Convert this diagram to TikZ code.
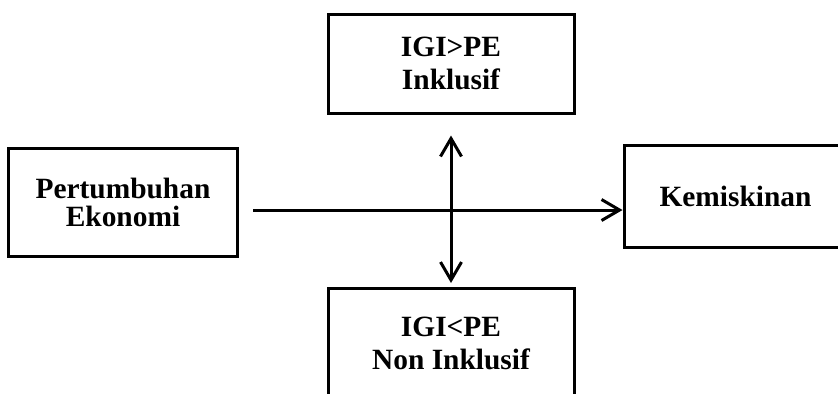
\documentclass[tikz,border=0pt]{standalone}
\usepackage{fontspec}
\setmainfont{Liberation Serif}
\usetikzlibrary{arrows.meta}
\tikzset{
  kotak/.style={draw, line width=1.5pt, align=center, inner sep=0pt,
    font=\fontsize{14.7}{16.5}\selectfont\bfseries},
  panah/.style={line width=1.5pt, -{Straight Barb[length=9pt,width=10.5pt,line width=1.5pt]}},
  panahdua/.style={line width=1.5pt, {Straight Barb[length=9pt,width=10.5pt,line width=1.5pt]}-{Straight Barb[length=9pt,width=10.5pt,line width=1.5pt]}}
}
\begin{document}
\begin{tikzpicture}[x=0.5pt, y=-0.5pt]
    \clip (0,0) rectangle (838,393);
    % Kotak variabel
    \node[kotak, minimum width=114.5pt, minimum height=54pt,
      font=\fontsize{14.7}{14}\selectfont\bfseries] (pe) at (123,202) {Pertumbuhan\\Ekonomi};
    \node[kotak, minimum width=111.5pt, minimum height=51pt] (miskin) at (735.5,196.5) {Kemiskinan};
    \node[kotak, minimum width=123pt, minimum height=49.5pt] (atas) at (451,63.5) {IGI>PE\\Inklusif};
    \node[kotak, minimum width=123pt, minimum height=55pt, anchor=north] (bawah) at (451,287) {IGI<PE\\Non Inklusif};
    % Panah pertumbuhan ke kemiskinan
    \coordinate (awal) at (253,210);
    \draw[panah] (awal) -- (awal -| miskin.west);
    % Panah dua arah IGI dan PE
    \draw[panahdua, shorten <=10.5pt, shorten >=2pt] (atas.south) -- (bawah.north);
\end{tikzpicture}
\end{document}
